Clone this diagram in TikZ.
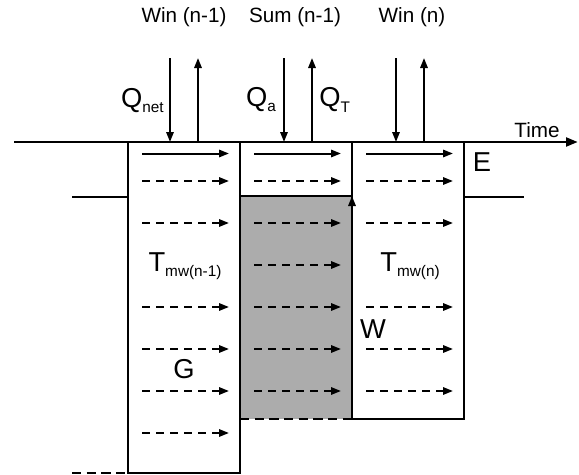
\documentclass[tikz,border=0pt]{standalone}
\usepackage{fontspec}
\setmainfont{Liberation Sans}
\usetikzlibrary{arrows.meta}

\newcommand{\lowsub}[1]{\raisebox{-0.35ex}{\fontsize{11.5}{13}\selectfont #1}}

\begin{document}
\begin{tikzpicture}[
    x=0.75pt, y=-0.75pt,
    >={Triangle[length=7.5pt,width=5.5pt]},
    every node/.style={font=\fontsize{15.5}{18}\selectfont, inner sep=0pt},
    big/.style={font=\fontsize{20.5}{24}\selectfont},
    wall/.style={line width=2.2pt},
    flux/.style={->, line width=1.5pt},
    heat/.style={->, line width=1.5pt, dash pattern=on 6pt off 4.5pt},
    seam/.style={line width=2.2pt, dash pattern=on 7pt off 4pt}
]
\useasboundingbox (0,0) rectangle (579,475);

% gray part of the summer column
\fill[gray!65] (240,196) rectangle (352,419);

% time axis and the three columns
\draw[wall, -{Triangle[length=9pt,width=6.5pt]}] (14,142) -- (578,142);
\draw[wall] (128,142) -- (128,473) -- (240,473) -- (240,142);
\draw[wall] (240,196) -- (352,196);
\draw[wall] (352,142) -- (352,419) -- (464,419) -- (464,142);
\draw[seam] (240,419) -- (352,419);
\draw[seam] (72,473) -- (128,473);
\draw[wall] (72,197) -- (128,197);
\draw[wall] (464,197) -- (524,197);

% surface fluxes
\foreach \x in {170,284,396} \draw[flux] (\x,58) -- (\x,142);
\foreach \x in {198,312,424} \draw[flux] (\x,142) -- (\x,58);
\draw[flux] (352,232) -- (352,196);

% horizontal arrows in each column
\foreach \x in {128,240,352} {
    \draw[flux] (\x+14,153.5) -- (\x+101,153.5);
    \draw[heat] (\x+14,181) -- (\x+101,181);
}
\foreach \y in {223,307,349,391,433} \draw[heat] (142,\y) -- (229,\y);
\foreach \y in {223,265,307,349,391} \draw[heat] (254,\y) -- (341,\y);
\foreach \y in {223,307,349,391} \draw[heat] (366,\y) -- (453,\y);

% labels
\node (win1) at (184,17) {Win (n-1)};
\node (sum1) at (295,17) {Sum (n-1)};
\node (win2) at (412,17) {Win (n)};
\node[big, anchor=east] (qnet) at (164,101) {Q\lowsub{net}};
\node[big] (qa) at (261,100) {Q\lowsub{a}};
\node[big, anchor=west] (qt) at (319,100) {Q\lowsub{T}};
\node (time) at (537,130) {Time};
\node[big] (e) at (482,162) {E};
\node[big] (tleft) at (185,266) {T\lowsub{mw(n-1)}};
\node[big] (tright) at (410,266) {T\lowsub{mw(n)}};
\node[big] (w) at (373,329) {W};
\node[big] (g) at (184,369) {G};

\end{tikzpicture}
\end{document}
